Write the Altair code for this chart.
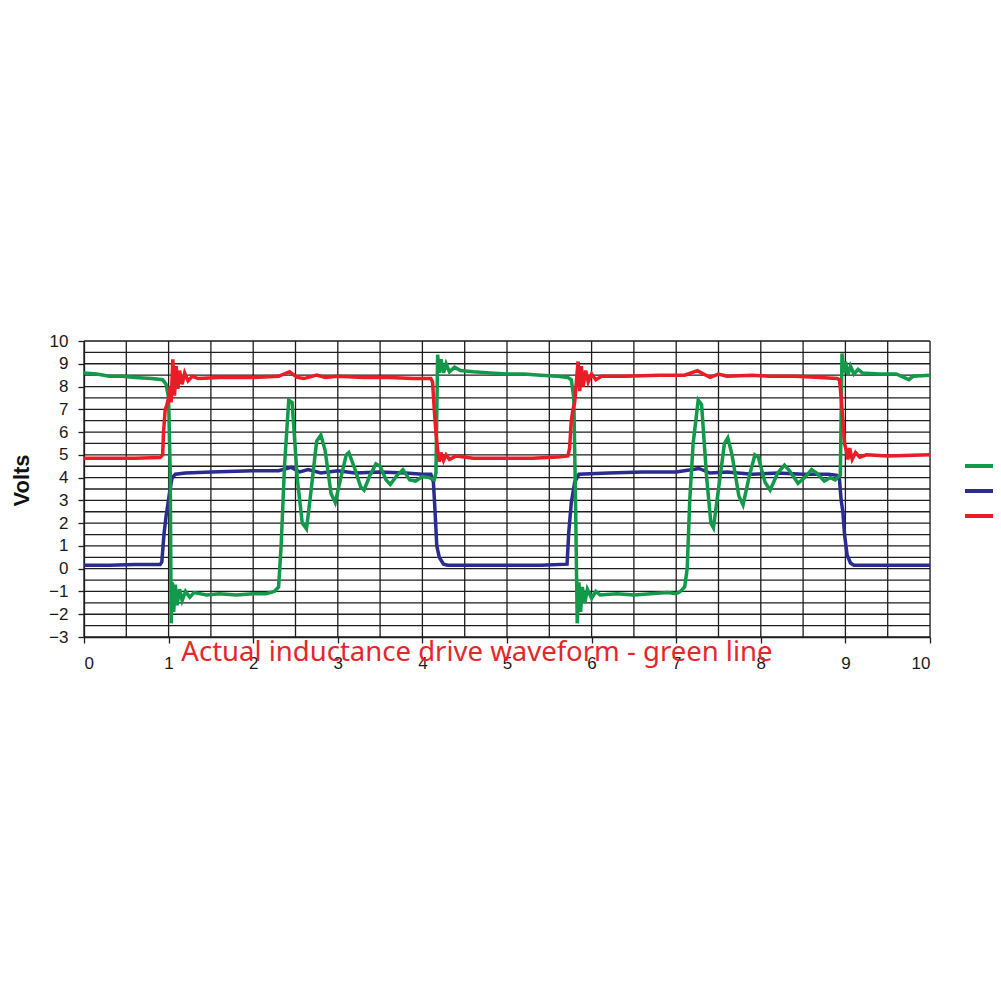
import altair as alt
import pandas as pd

# ---- data (time in arbitrary units, volts) ----
t_green = [0.0, 0.15, 0.3, 0.45, 0.6, 0.8, 0.93, 0.97, 1.0, 1.02, 1.03, 1.045, 1.06, 1.08, 1.1, 1.13, 1.16, 1.2, 1.25, 1.3,
           1.45, 1.6, 1.8, 2.0, 2.15, 2.25, 2.3, 2.33, 2.37, 2.42, 2.46, 2.52, 2.58, 2.63, 2.68, 2.75, 2.8, 2.85, 2.92, 2.97,
           3.03, 3.1, 3.13, 3.2, 3.27, 3.31, 3.38, 3.45, 3.5, 3.57, 3.62, 3.7, 3.77, 3.85, 3.92, 4.0, 4.08, 4.14, 4.16, 4.18,
           4.2, 4.22, 4.25, 4.28, 4.32, 4.38, 4.45, 4.6, 4.8, 5.0, 5.2, 5.4, 5.6, 5.72, 5.76, 5.79, 5.81, 5.83, 5.85, 5.87,
           5.89, 5.92, 5.95, 6.0, 6.05, 6.1, 6.3, 6.5, 6.7, 6.9, 7.0, 7.05, 7.1, 7.13, 7.16, 7.2, 7.26, 7.3, 7.36, 7.41,
           7.44, 7.5, 7.57, 7.61, 7.66, 7.74, 7.79, 7.86, 7.93, 7.97, 8.05, 8.11, 8.2, 8.28, 8.34, 8.44, 8.52, 8.6, 8.66, 8.75,
           8.82, 8.88, 8.92, 8.94, 8.96, 8.98, 9.0, 9.03, 9.06, 9.1, 9.15, 9.2, 9.4, 9.6, 9.75, 9.8, 10.0]
v_green = [8.6, 8.55, 8.45, 8.45, 8.4, 8.35, 8.3, 8.1, 7.5, 4.0, -2.4, -0.6, -1.9, -0.7, -1.6, -0.9, -1.4, -1.0, -1.25, -1.05,
           -1.15, -1.1, -1.15, -1.1, -1.1, -1.0, -0.8, 1.0, 4.5, 7.4, 7.3, 4.0, 2.0, 1.75, 3.3, 5.6, 5.87, 5.2, 3.3, 2.9,
           3.9, 5.0, 5.1, 4.4, 3.6, 3.45, 4.1, 4.6, 4.5, 3.9, 3.7, 4.1, 4.35, 3.9, 3.85, 4.05, 4.0, 3.9, 4.2, 9.4,
           8.6, 9.2, 8.6, 9.0, 8.65, 8.85, 8.7, 8.65, 8.6, 8.55, 8.55, 8.5, 8.45, 8.4, 8.3, 7.5, 3.0, -2.4, -0.6, -1.9,
           -0.8, -1.5, -0.9, -1.3, -1.0, -1.15, -1.1, -1.15, -1.1, -1.05, -1.1, -1.0, -0.8, 0.0, 3.0, 5.5, 7.4, 7.2, 4.0, 2.0,
           1.8, 3.5, 5.5, 5.75, 5.0, 3.2, 2.8, 4.0, 5.0, 4.9, 3.8, 3.45, 4.2, 4.55, 4.3, 3.75, 4.0, 4.35, 4.2, 3.85,
           4.0, 3.9, 4.05, 4.1, 9.45, 8.6, 9.1, 8.5, 8.9, 8.55, 8.75, 8.6, 8.55, 8.55, 8.3, 8.45, 8.5]

t_blue = [0.0, 0.3, 0.6, 0.9, 0.92, 0.945, 0.97, 0.99, 1.01, 1.04, 1.08, 1.2, 1.5, 2.0, 2.3, 2.45, 2.55, 2.65, 2.8, 3.0,
          3.2, 3.5, 3.8, 4.0, 4.1, 4.13, 4.15, 4.17, 4.2, 4.25, 4.3, 4.6, 5.0, 5.4, 5.71, 5.73, 5.76, 5.8, 5.85, 6.2,
          6.6, 7.0, 7.27, 7.4, 7.6, 7.9, 8.2, 8.5, 8.8, 8.9, 8.93, 8.95, 8.97, 8.99, 9.02, 9.06, 9.1, 9.5, 10.0]
v_blue = [0.15, 0.15, 0.18, 0.18, 0.3, 1.5, 2.3, 2.8, 3.3, 3.98, 4.15, 4.2, 4.25, 4.3, 4.3, 4.45, 4.25, 4.35, 4.2, 4.3,
          4.2, 4.25, 4.2, 4.15, 4.15, 3.8, 2.5, 1.0, 0.5, 0.2, 0.15, 0.15, 0.15, 0.15, 0.2, 1.6, 2.9, 3.8, 4.15, 4.2,
          4.25, 4.25, 4.4, 4.2, 4.25, 4.15, 4.2, 4.15, 4.15, 4.1, 3.9, 3.0, 2.5, 1.5, 0.6, 0.25, 0.15, 0.15, 0.15]

t_red = [0.0, 0.3, 0.6, 0.9, 0.93, 0.94, 0.96, 0.98, 1.0, 1.02, 1.03, 1.05, 1.07, 1.09, 1.11, 1.13, 1.16, 1.19, 1.23, 1.28,
         1.35, 1.6, 2.0, 2.3, 2.43, 2.52, 2.6, 2.75, 2.85, 3.0, 3.3, 3.6, 3.9, 4.1, 4.12, 4.14, 4.16, 4.18, 4.2, 4.22,
         4.25, 4.28, 4.32, 4.4, 4.6, 5.0, 5.3, 5.6, 5.72, 5.74, 5.76, 5.78, 5.8, 5.82, 5.84, 5.86, 5.88, 5.9, 5.93, 5.96,
         6.0, 6.05, 6.12, 6.4, 6.8, 7.1, 7.25, 7.4, 7.5, 7.6, 7.9, 8.1, 8.4, 8.7, 8.9, 8.93, 8.95, 8.97, 8.99, 9.01,
         9.03, 9.05, 9.08, 9.12, 9.17, 9.25, 9.5, 10.0]
v_red = [4.85, 4.85, 4.85, 4.88, 5.0, 6.0, 7.0, 7.2, 7.5, 8.0, 7.3, 9.2, 7.6, 8.9, 7.9, 8.7, 8.1, 8.6, 8.25, 8.45,
         8.35, 8.4, 8.4, 8.45, 8.65, 8.4, 8.35, 8.5, 8.4, 8.45, 8.4, 8.4, 8.35, 8.35, 8.2, 7.0, 6.0, 5.2, 4.7, 5.1,
         4.75, 5.0, 4.8, 4.95, 4.85, 4.85, 4.85, 4.9, 4.95, 5.3, 6.5, 7.0, 7.3, 8.2, 9.1, 7.8, 8.9, 8.0, 8.7, 8.2,
         8.55, 8.3, 8.45, 8.45, 8.5, 8.5, 8.7, 8.4, 8.55, 8.45, 8.5, 8.45, 8.45, 8.4, 8.35, 8.3, 7.5, 6.5, 5.5, 5.2,
         4.8, 5.3, 4.8, 5.1, 4.9, 5.0, 4.95, 5.0]

series_names = ["Inductance drive", "Input signal", "Input drive"]
series_colors = ["#12994a", "#2b2b92", "#ec1c26"]

x_ticks = [i * 0.5 for i in range(21)]
y_ticks = [-3 + i * 0.5 for i in range(27)]
x_labels = list(range(0, 11))
y_labels = list(range(-3, 11))

annotation = "Actual inductance drive waveform - green line"

# ---- build tables ----
rows = []
for name, ts, vs in zip(series_names, [t_green, t_blue, t_red], [v_green, v_blue, v_red]):
    for i, (t, v) in enumerate(zip(ts, vs)):
        rows.append({"series": name, "t": t, "v": v, "i": i})
df = pd.DataFrame(rows)
note_df = pd.DataFrame({"t": [4.645], "v": [-4.05], "text": [annotation]})
hgrid_df = pd.DataFrame({"v": y_ticks})
vgrid_df = pd.DataFrame({"t": x_ticks})

GRID = "#1e1e1e"
xs = alt.Scale(domain=[0, 10], nice=False)
ys = alt.Scale(domain=[-3, 10], nice=False)
color_scale = alt.Scale(domain=series_names, range=series_colors)

x_axis = alt.Axis(
    values=x_labels, grid=False, format="d", labelOverlap=False,
    tickSize=6, tickColor=GRID, tickWidth=1.3,
    domainColor=GRID, domainWidth=1.3,
    labelFont="Liberation Sans", labelFontSize=17, labelColor="#1a1a1a", labelPadding=12,
    title=None,
)
y_axis = alt.Axis(
    values=y_labels, grid=False, format="d", labelOverlap=False,
    tickSize=6, tickColor=GRID, tickWidth=1.3,
    domainColor=GRID, domainWidth=1.3,
    labelFont="Liberation Sans", labelFontSize=17, labelColor="#1a1a1a", labelPadding=10,
    title="Volts", titleFont="Liberation Sans", titleFontSize=22, titleFontWeight="bold",
    titleColor="#111111", titleX=-56, titleY=139, titleBaseline="alphabetic", titleAlign="center",
)

legend = alt.Legend(
    orient="none", legendX=879, legendY=108, title=None,
    symbolType="stroke", symbolSize=900, symbolStrokeWidth=4,
    labelFont="Liberation Sans", labelFontSize=14, labelColor="#5a1e14",
    labelOffset=1, rowPadding=0, padding=0,
)

hgrid = alt.Chart(hgrid_df).mark_rule(color=GRID, strokeWidth=1.3).encode(
    y=alt.Y("v:Q", scale=ys, axis=y_axis)
)
vgrid = alt.Chart(vgrid_df).mark_rule(color=GRID, strokeWidth=1.3).encode(
    x=alt.X("t:Q", scale=xs, axis=x_axis)
)

def series_layer(name):
    return alt.Chart(df).transform_filter(alt.datum.series == name).mark_line(strokeWidth=3.5).encode(
        x=alt.X("t:Q", scale=xs, axis=x_axis),
        y=alt.Y("v:Q", scale=ys, axis=y_axis),
        color=alt.Color("series:N", scale=color_scale, legend=legend),
        order="i:Q",
    )

note = alt.Chart(note_df).mark_text(
    font="Noto Sans", fontSize=27.5, color="#e5262b", align="center", baseline="alphabetic"
).encode(x=alt.X("t:Q", scale=xs, axis=x_axis), y=alt.Y("v:Q", scale=ys, axis=y_axis), text="text:N")

chart = alt.layer(
    hgrid,
    vgrid,
    series_layer(series_names[1]),
    series_layer(series_names[0]),
    series_layer(series_names[2]),
    note,
).properties(
    width=846, height=296,
    autosize=alt.AutoSizeParams(type="none"),
    padding={"left": 76, "top": 333, "right": 63, "bottom": 60},
).configure_view(stroke=GRID, strokeWidth=1.3).configure(background="white")

chart.save("out.html", embed_options={"renderer": "svg", "actions": False})
